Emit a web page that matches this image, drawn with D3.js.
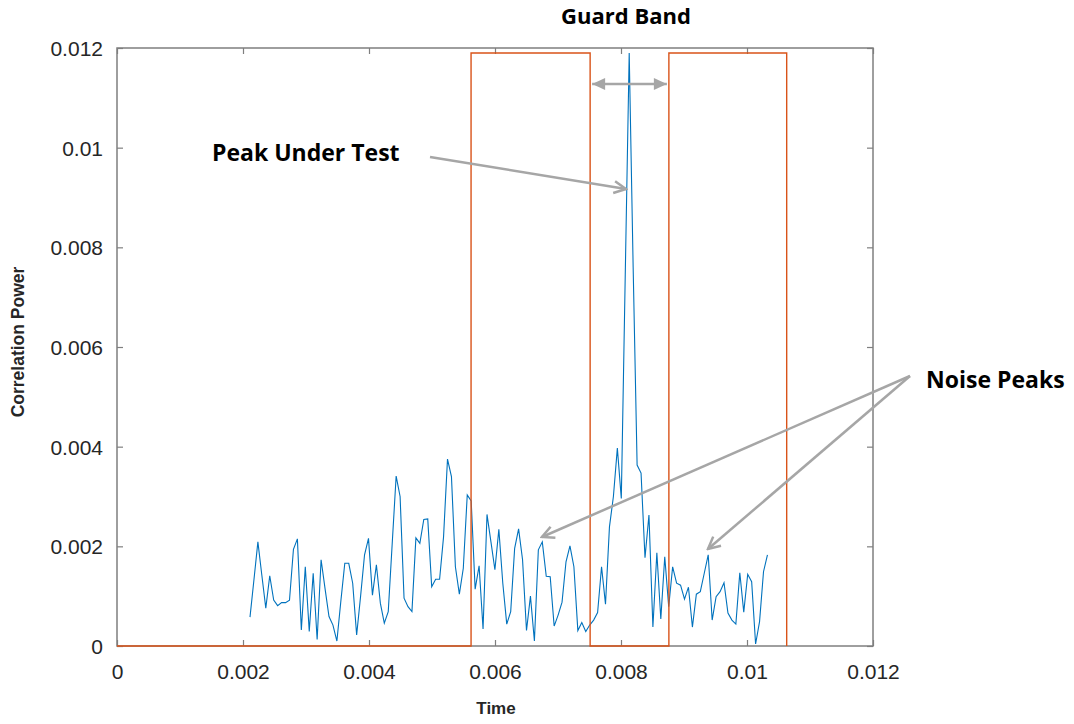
<!DOCTYPE html>
<html>
<head>
<meta charset="utf-8">
<script src="https://cdn.jsdelivr.net/npm/d3@7"></script>
<style>
  body { margin: 0; background: #fff; }
  svg { display: block; }
</style>
</head>
<body>
<div id="chart"></div>
<script>
// correlation power samples
const power = [
  0.00058,0.00133,0.00209,0.00142,0.00076,0.00141,0.00092,0.00081,0.00087,0.00087,
  0.00092,0.00194,0.00215,0.00032,0.00159,0.00029,0.00146,0.00013,0.00173,0.00115,
  0.00059,0.00042,0.00010,0.00090,0.00166,0.00166,0.00126,0.00022,0.00100,0.00183,
  0.00216,0.00102,0.00163,0.00086,0.00046,0.00069,0.00205,0.00341,0.00300,0.00096,
  0.00079,0.00069,0.00217,0.00206,0.00254,0.00255,0.00119,0.00134,0.00134,0.00219,
  0.00375,0.00340,0.00159,0.00104,0.00156,0.00303,0.00291,0.00114,0.00161,0.00034,
  0.00264,0.00209,0.00153,0.00234,0.00126,0.00044,0.00069,0.00196,0.00235,0.00173,
  0.00031,0.00100,0.00010,0.00193,0.00209,0.00140,0.00139,0.00040,0.00062,0.00088,
  0.00169,0.00201,0.00159,0.00031,0.00047,0.00029,0.00042,0.00052,0.00067,0.00159,
  0.00084,0.00239,0.00300,0.00397,0.00296,0.00745,0.01190,0.00760,0.00363,0.00347,
  0.00177,0.00263,0.00038,0.00187,0.00054,0.00179,0.00079,0.00159,0.00126,0.00122,
  0.00094,0.00118,0.00038,0.00104,0.00109,0.00146,0.00183,0.00052,0.00099,0.00109,
  0.00127,0.00066,0.00052,0.00044,0.00147,0.00068,0.00144,0.00129,0.00004,0.00049,
  0.00149,0.00183
];
const t0 = 0.002111;   // first sample time
const dt = 0.0000627;  // sample spacing
const times = power.map((d, i) => t0 + i * dt);

// reference window (step outline)
const winTimes  = [0, 0.00562, 0.00562, 0.00751, 0.00751, 0.00876, 0.00876, 0.01063, 0.01063];
const winValues = [0, 0,       0.0119,  0.0119,  0,       0,       0.0119,  0.0119,  0];

const xTicks = [0, 0.002, 0.004, 0.006, 0.008, 0.01, 0.012];
const yTicks = [0, 0.002, 0.004, 0.006, 0.008, 0.01, 0.012];

const width = 1074, height = 724;
const margin = {top: 48, right: 201, bottom: 78, left: 117};

const svg = d3.select('#chart').append('svg')
  .attr('width', width).attr('height', height);

const x = d3.scaleLinear().domain([0, 0.012]).range([margin.left, width - margin.right]);
const y = d3.scaleLinear().domain([0, 0.012]).range([height - margin.bottom, margin.top]);

const axisColor = '#7f7f7f';
const fmt = d => d === 0 ? '0' : d3.format('')(+d.toFixed(3));

function styleAxis(g, showText) {
  g.select('.domain').remove();
  g.selectAll('.tick line').attr('stroke', axisColor).attr('stroke-width', 1.2);
  g.selectAll('.tick text')
    .attr('fill', '#262626')
    .attr('font-family', 'Liberation Sans, Arial, sans-serif')
    .attr('font-size', 21)
    .style('display', showText ? null : 'none');
}

// axes with inward ticks on all four sides
svg.append('g')
  .attr('transform', `translate(0,${y(0)})`)
  .call(d3.axisBottom(x).tickValues(xTicks).tickFormat(fmt).tickSizeInner(-6).tickSizeOuter(0).tickPadding(18))
  .call(g => styleAxis(g, true));
svg.append('g')
  .attr('transform', `translate(0,${y(0.012)})`)
  .call(d3.axisTop(x).tickValues(xTicks).tickSizeInner(-6).tickSizeOuter(0))
  .call(g => styleAxis(g, false));
svg.append('g')
  .attr('transform', `translate(${x(0)},0)`)
  .call(d3.axisLeft(y).tickValues(yTicks).tickFormat(fmt).tickSizeInner(-6).tickSizeOuter(0).tickPadding(14))
  .call(g => styleAxis(g, true))
  .call(g => g.selectAll('.tick text').attr('dy', '0.36em'));
svg.append('g')
  .attr('transform', `translate(${x(0.012)},0)`)
  .call(d3.axisRight(y).tickValues(yTicks).tickSizeInner(-6).tickSizeOuter(0))
  .call(g => styleAxis(g, false));

// box
svg.append('rect')
  .attr('x', x(0)).attr('y', y(0.012))
  .attr('width', x(0.012) - x(0)).attr('height', y(0) - y(0.012))
  .attr('fill', 'none').attr('stroke', axisColor).attr('stroke-width', 1.5);

// signal
const line = d3.line().x(d => x(d[0])).y(d => y(d[1]));
svg.append('path')
  .datum(times.map((t, i) => [t, power[i]]))
  .attr('d', line)
  .attr('fill', 'none').attr('stroke', '#0072BD').attr('stroke-width', 1.1);

// window
svg.append('path')
  .datum(winTimes.map((t, i) => [t, winValues[i]]))
  .attr('d', line)
  .attr('fill', 'none').attr('stroke', '#D95319').attr('stroke-width', 1.4);

// axis titles
svg.append('text')
  .attr('x', x(0.006) + 1).attr('y', 714)
  .attr('text-anchor', 'middle')
  .attr('font-family', 'Liberation Sans, Arial, sans-serif')
  .attr('font-weight', 'bold').attr('font-size', 17)
  .attr('fill', '#262626')
  .text('Time');
svg.append('text')
  .attr('transform', 'translate(24,342) rotate(-90)')
  .attr('text-anchor', 'middle')
  .attr('font-family', 'Liberation Sans, Arial, sans-serif')
  .attr('font-weight', 'bold').attr('font-size', 17.5)
  .attr('fill', '#262626')
  .text('Correlation Power');

// annotations
const grey = '#a6a6a6';
const defs = svg.append('defs');
defs.append('marker')
  .attr('id', 'open').attr('viewBox', '-14 -8 16 16')
  .attr('refX', 0).attr('refY', 0)
  .attr('markerWidth', 16).attr('markerHeight', 16)
  .attr('markerUnits', 'userSpaceOnUse').attr('orient', 'auto')
  .append('path').attr('d', 'M-12,-6 L0,0 L-12,6')
  .attr('fill', 'none').attr('stroke', grey).attr('stroke-width', 2.5);
defs.append('marker')
  .attr('id', 'solid').attr('viewBox', '-14 -8 16 16')
  .attr('refX', 0).attr('refY', 0)
  .attr('markerWidth', 16).attr('markerHeight', 16)
  .attr('markerUnits', 'userSpaceOnUse').attr('orient', 'auto-start-reverse')
  .append('path').attr('d', 'M-13,-6 L0,0 L-13,6 Z')
  .attr('fill', grey);

const labelFont = 'Open Sans, Noto Sans, sans-serif';
function label(txt, xx, yy, anchor, size) {
  svg.append('text')
    .attr('x', xx).attr('y', yy)
    .attr('text-anchor', anchor)
    .attr('font-family', labelFont).attr('font-weight', 'bold')
    .attr('font-size', size).attr('fill', '#000')
    .text(txt);
}
label('Guard Band', 626, 24, 'middle', 22);
label('Peak Under Test', 212, 161, 'start', 23);
label('Noise Peaks', 926, 388, 'start', 23);

function arrow(x1, y1, x2, y2, marker) {
  svg.append('line')
    .attr('x1', x1).attr('y1', y1).attr('x2', x2).attr('y2', y2)
    .attr('stroke', grey).attr('stroke-width', 2.5)
    .attr('marker-end', `url(#${marker})`)
    .attr('marker-start', marker === 'solid' ? 'url(#solid)' : null);
}
arrow(x(0.00751) + 2, 84, x(0.00876) - 2, 84, 'solid');
arrow(430, 157, 626, 189, 'open');
arrow(910, 376, 542, 537, 'open');
arrow(910, 376, 708, 549, 'open');
</script>
</body>
</html>
